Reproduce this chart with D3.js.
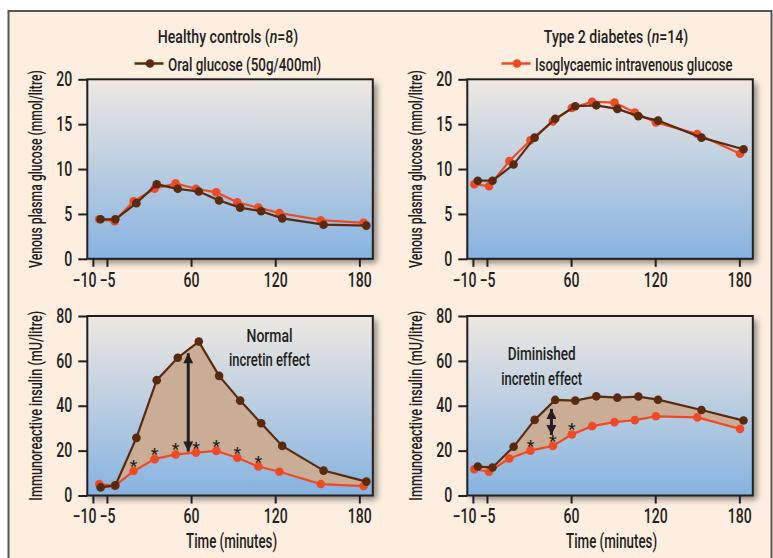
<!DOCTYPE html>
<html>
<head>
<meta charset="utf-8">
<script src="https://cdn.jsdelivr.net/npm/d3@7"></script>
<style>
body { margin: 0; background: #fff; }
svg { display: block; font-family: Roboto, "DejaVu Sans", sans-serif; font-weight: 500; }
</style>
</head>
<body>
<div class="plot"></div>
<script>
// axis ticks (the "-5" label sits at time 0 in the original figure)
const timeTicks = [-10, 0, 60, 120, 180];
const timeTickLabels = ["\u221210", "\u22125", "60", "120", "180"];
const glucoseTicks = [0, 5, 10, 15, 20];
const insulinTicks = [0, 20, 40, 60, 80];

// sampling times as drawn (minutes)
const healthyOralTimes = [-4.5, 6, 21, 35.5, 50.5, 65.5, 80, 95, 110, 125, 154.5, 185];
const healthyIvTimes = [-5.5, 5.5, 19, 34, 49, 63.5, 78, 93, 108, 123, 152.5, 183];
const diabetesOralTimes = [-6.5, 4, 19, 34, 48.7, 63, 78, 93, 108, 122, 153, 183];
const diabetesIvTimes = [-9, 1.5, 16, 31, 47, 60.5, 75, 91, 105.5, 120.5, 150, 180.5];

// venous plasma glucose (mmol/litre)
const healthyOralGlucose = [4.4, 4.4, 6.2, 8.3, 7.8, 7.5, 6.5, 5.7, 5.3, 4.5, 3.8, 3.7];
const healthyIvGlucose = [4.4, 4.2, 6.4, 7.8, 8.4, 7.8, 7.4, 6.3, 5.7, 5.1, 4.3, 4.0];
const diabetesOralGlucose = [8.7, 8.7, 10.5, 13.5, 15.6, 17.0, 17.1, 16.7, 15.9, 15.4, 13.5, 12.2];
const diabetesIvGlucose = [8.3, 8.1, 10.9, 13.2, 15.3, 16.8, 17.5, 17.4, 16.3, 15.2, 13.9, 11.7];

// immunoreactive insulin (mU/litre)
const healthyOralInsulin = [3.6, 4.5, 25.7, 51.4, 61.4, 68.6, 53.3, 42.3, 32.2, 22.1, 11.1, 6.2];
const healthyIvInsulin = [5.1, 4.3, 10.9, 16.2, 18.3, 19.1, 19.9, 16.8, 12.9, 10.6, 5.1, 4.2];
const diabetesOralInsulin = [12.9, 12.5, 21.7, 33.7, 42.6, 42.3, 44.2, 43.6, 44.1, 42.7, 38.1, 33.4];
const diabetesIvInsulin = [11.7, 10.6, 16.5, 20.0, 22.1, 27.2, 30.9, 32.7, 33.6, 35.3, 34.8, 29.7];

// significant differences (index into the iv series)
const healthyStars = [2, 3, 4, 5, 6, 7, 8];
const diabetesStars = [3, 4, 5];

// incretin effect arrows: [time, low, high]
const healthyArrow = [58, 19.6, 63.4];
const diabetesArrow = [46, 27, 38.6];

const brown = "#5a2a0f";
const red = "#ee4a25";
const ink = "#231f20";
const tickScale = 0.72;

const svg = d3
    .select(".plot")
    .append("svg")
    .attr("width", 773)
    .attr("height", 558);

// squeeze a text to the width it has in the (condensed) original
function fit(sel, x, y, width, rot) {
    const w = sel.node().getComputedTextLength();
    sel.attr("transform", `translate(${x}, ${y})${rot ? " rotate(-90)" : ""} scale(${width / w}, 1)`);
    return sel;
}

const defs = svg.append("defs");
const grad = defs.append("linearGradient")
    .attr("id", "plotBg")
    .attr("x1", 0).attr("y1", 0).attr("x2", 0).attr("y2", 1);
grad.append("stop").attr("offset", "0%").attr("stop-color", "#eee8e2");
grad.append("stop").attr("offset", "100%").attr("stop-color", "#86b3e0");

const shadow = defs.append("filter")
    .attr("id", "shadow")
    .attr("x", "-10%").attr("y", "-10%")
    .attr("width", "130%").attr("height", "130%");
shadow.append("feDropShadow")
    .attr("dx", 4).attr("dy", 4)
    .attr("stdDeviation", 3)
    .attr("flood-color", "#000")
    .attr("flood-opacity", 0.45);

const marker = defs.append("marker")
    .attr("id", "head")
    .attr("viewBox", "0 0 10 10")
    .attr("refX", 10).attr("refY", 5)
    .attr("markerUnits", "userSpaceOnUse")
    .attr("markerWidth", 13).attr("markerHeight", 10)
    .attr("orient", "auto-start-reverse");
marker.append("path").attr("d", "M0,0L10,5L0,10Z").attr("fill", ink);

// frame
svg.append("rect")
    .attr("x", 8.5).attr("y", 11)
    .attr("width", 763).attr("height", 570)
    .attr("fill", "#fdeee0")
    .attr("stroke", "#555")
    .attr("stroke-width", 2);

const plotW = 285.5;
const plotH = 179.5;

const panels = [
    { x: 87.3, y: 79.3, ticks: glucoseTicks, max: 20, title: "Venous plasma glucose (mmol/litre)", titleW: 198,
      oralT: healthyOralTimes, oral: healthyOralGlucose, ivT: healthyIvTimes, iv: healthyIvGlucose },
    { x: 467.3, y: 79.3, ticks: glucoseTicks, max: 20, title: "Venous plasma glucose (mmol/litre)", titleW: 198,
      oralT: diabetesOralTimes, oral: diabetesOralGlucose, ivT: diabetesIvTimes, iv: diabetesIvGlucose },
    { x: 87.3, y: 316, ticks: insulinTicks, max: 80, title: "Immunoreactive insulin (mU/litre)", titleW: 190,
      oralT: healthyOralTimes, oral: healthyOralInsulin, ivT: healthyIvTimes, iv: healthyIvInsulin,
      stars: healthyStars, arrow: healthyArrow,
      note: [["Normal", 46], ["incretin effect", 81]], noteX: 269.5, noteY: 341.5 },
    { x: 467.3, y: 316, ticks: insulinTicks, max: 80, title: "Immunoreactive insulin (mU/litre)", titleW: 190,
      oralT: diabetesOralTimes, oral: diabetesOralInsulin, ivT: diabetesIvTimes, iv: diabetesIvInsulin,
      stars: diabetesStars, arrow: diabetesArrow,
      note: [["Diminished", 68], ["incretin effect", 81]], noteX: 541.7, noteY: 360 },
];

panels.forEach((p) => {
    const g = svg.append("g").attr("transform", `translate(${p.x}, ${p.y})`);
    const x = d3.scaleLinear().domain([-14, 189.6]).range([0, plotW]);
    const y = d3.scaleLinear().domain([0, p.max]).range([plotH, 0]);

    g.append("rect")
        .attr("width", plotW).attr("height", plotH)
        .attr("fill", "url(#plotBg)")
        .attr("filter", "url(#shadow)");

    const oralPts = p.oralT.map((t, i) => [x(t), y(p.oral[i])]);
    const ivPts = p.ivT.map((t, i) => [x(t), y(p.iv[i])]);

    if (p.arrow) {
        g.append("path")
            .attr("d", d3.line()(oralPts.concat(ivPts.slice().reverse())) + "Z")
            .attr("fill", "#c9ad97");
    }

    [[ivPts, red], [oralPts, brown]].forEach(([pts, c]) => {
        g.append("path")
            .attr("d", d3.line()(pts))
            .attr("fill", "none")
            .attr("stroke", c)
            .attr("stroke-width", 2.2);
        g.selectAll(null)
            .data(pts)
            .join("circle")
            .attr("cx", (d) => d[0])
            .attr("cy", (d) => d[1])
            .attr("r", 4.3)
            .attr("fill", c);
    });

    if (p.stars) {
        g.selectAll(null)
            .data(p.stars)
            .join("text")
            .attr("x", (d) => x(p.ivT[d]))
            .attr("y", (d) => y(p.iv[d]) + 1)
            .attr("text-anchor", "middle")
            .style("font-size", "17px")
            .attr("fill", ink)
            .text("*");
    }

    if (p.arrow) {
        const [t, lo, hi] = p.arrow;
        g.append("line")
            .attr("x1", x(t)).attr("x2", x(t))
            .attr("y1", y(lo)).attr("y2", y(hi))
            .attr("stroke", ink)
            .attr("stroke-width", 3)
            .attr("marker-start", "url(#head)")
            .attr("marker-end", "url(#head)");
        p.note.forEach(([s, w], i) => {
            const t = g.append("text")
                .attr("text-anchor", "middle")
                .attr("fill", ink)
                .style("font-size", "18px")
                .text(s);
            fit(t, p.noteX - p.x, p.noteY - p.y + i * 24.5, w);
        });
    }

    g.append("rect")
        .attr("width", plotW).attr("height", plotH)
        .attr("fill", "none")
        .attr("stroke", ink)
        .attr("stroke-width", 2);

    const yAxis = g.append("g")
        .call(d3.axisLeft(y).tickValues(p.ticks).tickSize(9).tickPadding(6));
    const xAxis = g.append("g")
        .attr("transform", `translate(0, ${plotH})`)
        .call(d3.axisBottom(x).tickValues(timeTicks)
            .tickFormat((d, i) => timeTickLabels[i]).tickSize(8).tickPadding(6));
    xAxis.selectAll(".tick text")
        .filter((d, i) => i === 0)
        .attr("text-anchor", "end")
        .attr("x", 3);
    [yAxis, xAxis].forEach((a) => {
        a.select(".domain").remove();
        a.attr("font-family", null).attr("font-size", null);
        a.selectAll(".tick line").attr("stroke", ink).attr("stroke-width", 2);
        a.selectAll(".tick text")
            .attr("fill", ink)
            .style("font-size", "19.5px")
            .each(function () {
                const t = d3.select(this);
                t.attr("x", (+t.attr("x") || 0) / tickScale)
                    .attr("transform", `scale(${tickScale}, 1)`);
            });
    });

    const yt = g.append("text")
        .attr("text-anchor", "middle")
        .attr("fill", ink)
        .style("font-size", "18.5px")
        .text(p.title);
    fit(yt, -45, plotH / 2, p.titleW, true);

    if (p.y > 200) {
        const xt = g.append("text")
            .attr("text-anchor", "middle")
            .attr("fill", ink)
            .style("font-size", "19.5px")
            .text("Time (minutes)");
        fit(xt, plotW / 2 + 1.5, plotH + 52, 91);
    }
});

// group titles and legend entries
const groups = [
    { cx: 228, titleW: 140.6, name: "Healthy controls (", n: "8", lx: 134.5,
      label: "Oral glucose (50g/400ml)", labelW: 153.4, color: brown },
    { cx: 616, titleW: 144.3, name: "Type 2 diabetes (", n: "14", lx: 501.5,
      label: "Isoglycaemic intravenous glucose", labelW: 197.7, color: red },
];

groups.forEach((d) => {
    const t = svg.append("text")
        .attr("text-anchor", "middle")
        .attr("fill", ink)
        .style("font-size", "19px");
    t.append("tspan").text(d.name);
    t.append("tspan").style("font-style", "italic").text("n");
    t.append("tspan").text("=" + d.n + ")");
    fit(t, d.cx, 42.8, d.titleW);

    svg.append("line")
        .attr("x1", d.lx).attr("x2", d.lx + 29)
        .attr("y1", 63.5).attr("y2", 63.5)
        .attr("stroke", d.color)
        .attr("stroke-width", 2.5);
    svg.append("circle")
        .attr("cx", d.lx + 15.5).attr("cy", 63.5)
        .attr("r", 4.3)
        .attr("fill", d.color);
    const l = svg.append("text")
        .attr("fill", ink)
        .style("font-size", "19px")
        .text(d.label);
    fit(l, d.lx + 33.5, 71, d.labelW);
});
</script>
</body>
</html>
